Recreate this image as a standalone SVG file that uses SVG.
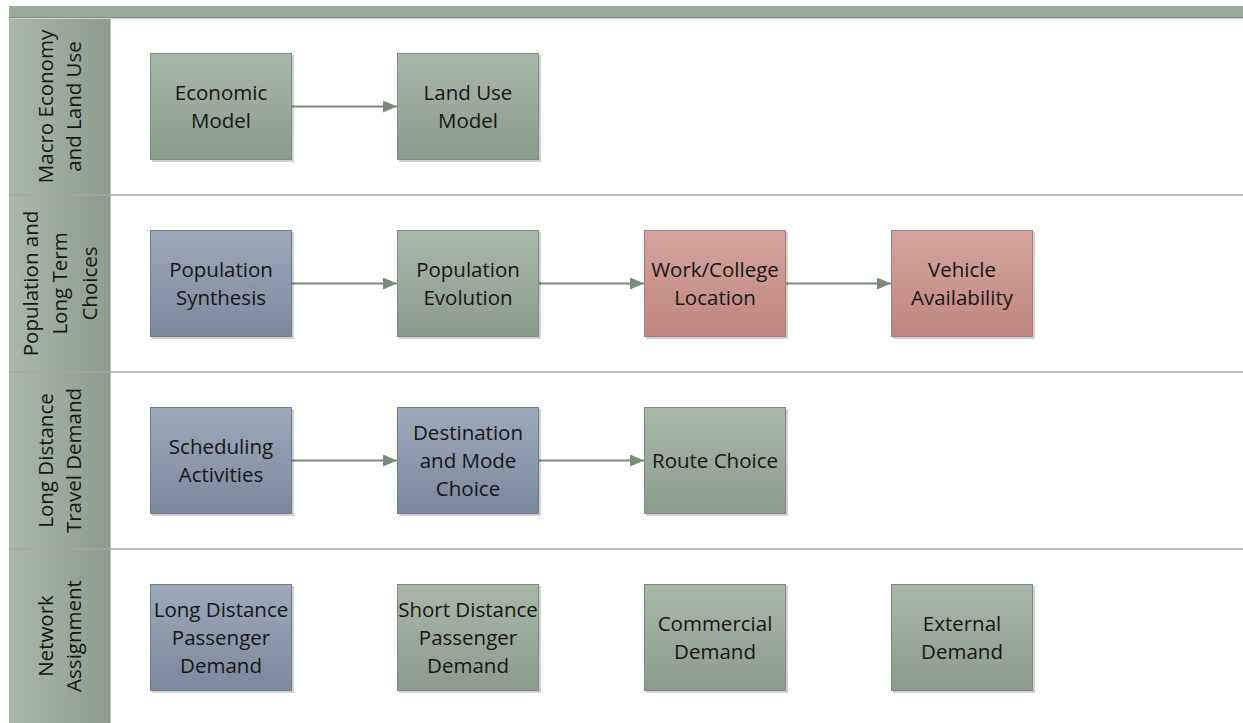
<svg xmlns="http://www.w3.org/2000/svg" width="1243" height="723" viewBox="0 0 1243 723">
<defs>
<linearGradient id="gGreen" x1="0" y1="0" x2="0" y2="1"><stop offset="0" stop-color="#aab7ab"/><stop offset="1" stop-color="#8c9a8d"/></linearGradient>
<linearGradient id="gBlue" x1="0" y1="0" x2="0" y2="1"><stop offset="0" stop-color="#9ea9ba"/><stop offset="1" stop-color="#7c879b"/></linearGradient>
<linearGradient id="gRed" x1="0" y1="0" x2="0" y2="1"><stop offset="0" stop-color="#d5a49f"/><stop offset="1" stop-color="#bf867f"/></linearGradient>
<linearGradient id="gLane" x1="0" y1="0" x2="1" y2="0"><stop offset="0" stop-color="#aab7ab"/><stop offset="1" stop-color="#8e9d8f"/></linearGradient>
<marker id="arr" viewBox="0 0 14 12" refX="14" refY="6" markerWidth="14" markerHeight="12" markerUnits="userSpaceOnUse" orient="auto"><path d="M0,0 L14,6 L0,12 Z" fill="#7a8a7b"/></marker>
</defs>
<style>
.t{font-family:"Open Sans","Liberation Sans",sans-serif;font-size:20.5px;fill:#161616;text-anchor:middle}
.n{stroke:#7d8b7e;stroke-width:1}
.nb{stroke:#6f7a8c;stroke-width:1}
.nr{stroke:#a87a74;stroke-width:1}
.sh{fill:#000;opacity:0.18}
.sep{stroke:#a3a8a3;stroke-width:1.5}
.c{stroke:#7a8a7b;stroke-width:2.2;fill:none;marker-end:url(#arr)}
</style>
<rect width="1243" height="723" fill="#ffffff"/>
<g id="frame">
<rect x="9" y="6" width="1234" height="12" fill="#9aaa9b"/>
<line x1="9" y1="17.5" x2="1243" y2="17.5" stroke="#7f8f80" stroke-width="1"/>
<line x1="9" y1="18.7" x2="1243" y2="18.7" stroke="#c8ccc8" stroke-width="1"/>
<rect x="9" y="19" width="101" height="704" fill="url(#gLane)"/>
<line x1="110" y1="19" x2="110" y2="723" stroke="#7f8f80" stroke-width="1"/>
<line class="sep" x1="9" y1="195" x2="1243" y2="195"/>
<line class="sep" x1="9" y1="372" x2="1243" y2="372"/>
<line class="sep" x1="9" y1="549" x2="1243" y2="549"/>
</g>
<g id="lane1"><text class="t" transform="translate(59.5,106.5) rotate(-90)"><tspan x="0" y="-6.5">Macro Economy</tspan><tspan x="0" y="21.5">and Land Use</tspan></text></g>
<g id="lane2"><text class="t" transform="translate(59.5,283.5) rotate(-90)"><tspan x="0" y="-22">Population and</tspan><tspan x="0" y="7.5">Long Term</tspan><tspan x="0" y="37">Choices</tspan></text></g>
<g id="lane3"><text class="t" transform="translate(59.5,460.5) rotate(-90)"><tspan x="0" y="-6.5">Long Distance</tspan><tspan x="0" y="21.5">Travel Demand</tspan></text></g>
<g id="lane4"><text class="t" transform="translate(59.5,636) rotate(-90)"><tspan x="0" y="-6.5">Network</tspan><tspan x="0" y="21.5">Assignment</tspan></text></g>
<g id="connectors">
<line class="c" x1="292" y1="106.5" x2="397" y2="106.5"/>
<line class="c" x1="292" y1="283.5" x2="397" y2="283.5"/>
<line class="c" x1="539" y1="283.5" x2="644" y2="283.5"/>
<line class="c" x1="786" y1="283.5" x2="891" y2="283.5"/>
<line class="c" x1="292" y1="460.5" x2="397" y2="460.5"/>
<line class="c" x1="539" y1="460.5" x2="644" y2="460.5"/>
</g>
<g id="economic"><rect class="sh" x="152" y="55" width="142" height="107"/><rect class="n" x="150.5" y="53.5" width="141" height="106" fill="url(#gGreen)"/><text class="t"><tspan x="221" y="100">Economic</tspan><tspan x="221" y="128">Model</tspan></text></g>
<g id="landuse"><rect class="sh" x="399" y="55" width="142" height="107"/><rect class="n" x="397.5" y="53.5" width="141" height="106" fill="url(#gGreen)"/><text class="t"><tspan x="468" y="100">Land Use</tspan><tspan x="468" y="128">Model</tspan></text></g>
<g id="popsynth"><rect class="sh" x="152" y="232" width="142" height="107"/><rect class="nb" x="150.5" y="230.5" width="141" height="106" fill="url(#gBlue)"/><text class="t"><tspan x="221" y="277">Population</tspan><tspan x="221" y="305">Synthesis</tspan></text></g>
<g id="popevol"><rect class="sh" x="399" y="232" width="142" height="107"/><rect class="n" x="397.5" y="230.5" width="141" height="106" fill="url(#gGreen)"/><text class="t"><tspan x="468" y="277">Population</tspan><tspan x="468" y="305">Evolution</tspan></text></g>
<g id="workcollege"><rect class="sh" x="646" y="232" width="142" height="107"/><rect class="nr" x="644.5" y="230.5" width="141" height="106" fill="url(#gRed)"/><text class="t"><tspan x="715" y="277">Work/College</tspan><tspan x="715" y="305">Location</tspan></text></g>
<g id="vehicle"><rect class="sh" x="893" y="232" width="142" height="107"/><rect class="nr" x="891.5" y="230.5" width="141" height="106" fill="url(#gRed)"/><text class="t"><tspan x="962" y="277">Vehicle</tspan><tspan x="962" y="305">Availability</tspan></text></g>
<g id="scheduling"><rect class="sh" x="152" y="409" width="142" height="107"/><rect class="nb" x="150.5" y="407.5" width="141" height="106" fill="url(#gBlue)"/><text class="t"><tspan x="221" y="454">Scheduling</tspan><tspan x="221" y="482">Activities</tspan></text></g>
<g id="destmode"><rect class="sh" x="399" y="409" width="142" height="107"/><rect class="nb" x="397.5" y="407.5" width="141" height="106" fill="url(#gBlue)"/><text class="t"><tspan x="468" y="440">Destination</tspan><tspan x="468" y="468">and Mode</tspan><tspan x="468" y="496">Choice</tspan></text></g>
<g id="route"><rect class="sh" x="646" y="409" width="142" height="107"/><rect class="n" x="644.5" y="407.5" width="141" height="106" fill="url(#gGreen)"/><text class="t"><tspan x="715" y="468">Route Choice</tspan></text></g>
<g id="ldpd"><rect class="sh" x="152" y="586" width="142" height="107"/><rect class="nb" x="150.5" y="584.5" width="141" height="106" fill="url(#gBlue)"/><text class="t"><tspan x="221" y="617">Long Distance</tspan><tspan x="221" y="645">Passenger</tspan><tspan x="221" y="673">Demand</tspan></text></g>
<g id="sdpd"><rect class="sh" x="399" y="586" width="142" height="107"/><rect class="n" x="397.5" y="584.5" width="141" height="106" fill="url(#gGreen)"/><text class="t"><tspan x="468" y="617">Short Distance</tspan><tspan x="468" y="645">Passenger</tspan><tspan x="468" y="673">Demand</tspan></text></g>
<g id="commercial"><rect class="sh" x="646" y="586" width="142" height="107"/><rect class="n" x="644.5" y="584.5" width="141" height="106" fill="url(#gGreen)"/><text class="t"><tspan x="715" y="631">Commercial</tspan><tspan x="715" y="659">Demand</tspan></text></g>
<g id="external"><rect class="sh" x="893" y="586" width="142" height="107"/><rect class="n" x="891.5" y="584.5" width="141" height="106" fill="url(#gGreen)"/><text class="t"><tspan x="962" y="631">External</tspan><tspan x="962" y="659">Demand</tspan></text></g>
</svg>
